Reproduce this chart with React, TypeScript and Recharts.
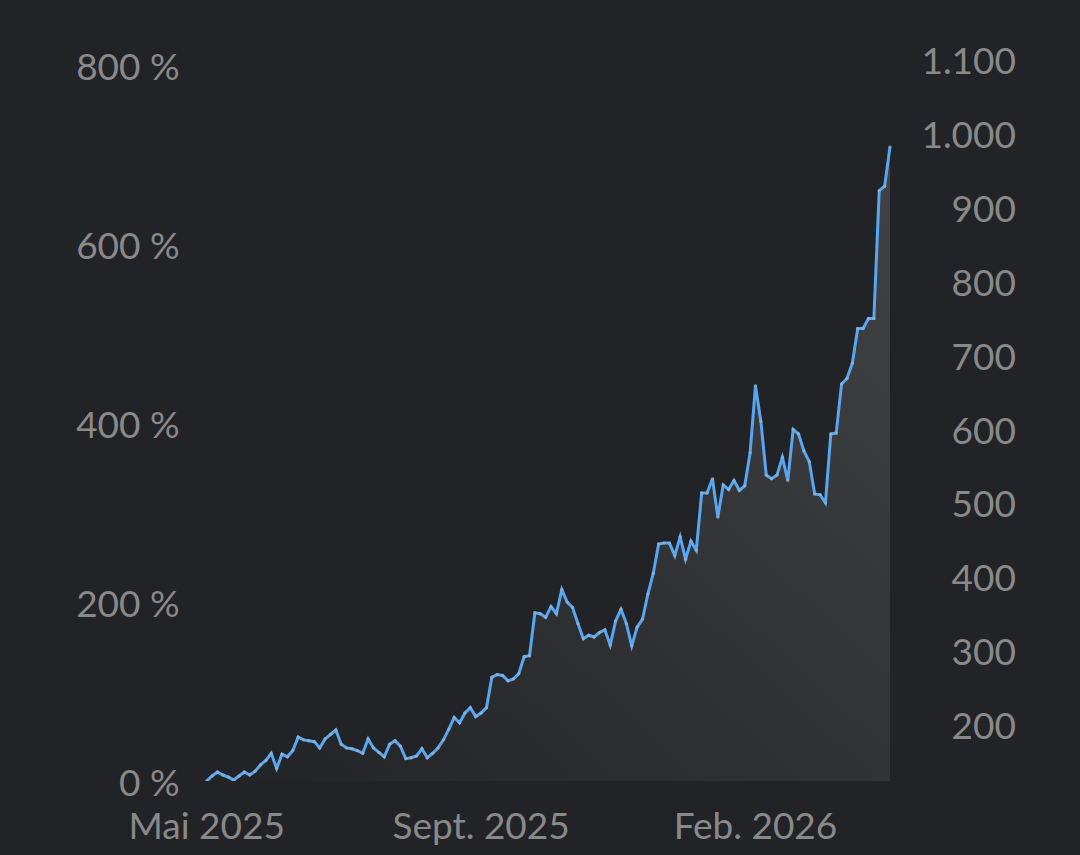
import { Area, ComposedChart, XAxis, YAxis } from "recharts"

// performance in % (one point every few days)
const perf: number[] = [
  0, 5.6, 10, 6.7, 4.5, 1, 5.6, 10, 6.7, 11, 18, 23, 31, 14, 30, 27, 34, 49, 46, 45, 44, 37,
  47, 52, 57, 41, 37, 36, 34, 31, 47, 37, 32, 27, 41, 45, 39, 25, 26, 28, 36, 26, 31, 37,
  46, 58, 71, 65, 76, 82, 72, 76, 82,
  116, 119, 118, 112, 114, 120, 139, 140, 188, 187, 183, 195, 187, 214, 200, 194, 176, 159,
  163, 161, 166, 169, 152, 179, 192, 176, 151, 172, 181, 209, 232,
  265, 266, 266, 252, 273, 248, 268, 258, 322, 322, 338, 295, 331, 326, 336, 325, 330, 367,
  442, 402, 342, 338, 342, 362, 336, 393, 388, 369, 357, 321, 320, 311, 388, 389, 444, 450, 467,
  506, 506, 517, 517, 660, 665, 709
]

const xTickIdx = [0, 51, 102]
const xTickLabels = ["Mai 2025", "Sept. 2025", "Feb. 2026"]
const leftTicks = [0, 200, 400, 600, 800]
const rightTicks = [200, 300, 400, 500, 600, 700, 800, 900, 1000, 1100]

const data = perf.map((v, i) => ({ i, v }))

const BG = "#222326"
const TEXT = "#898989"
const FONT = "Lato, 'Open Sans', sans-serif"
const FS = 37

const fmtDe = (n: number) => String(n).replace(/\B(?=(\d{3})+(?!\d))/g, ".")

const LeftTick = (p: any) => (
  <text x={p.x - 27} y={p.y} textAnchor="end" dominantBaseline="central" fill={TEXT} fontSize={FS} fontFamily={FONT}>
    {p.payload.value} %
  </text>
)

const RightTick = (p: any) => (
  <text x={p.x + 126} y={p.y} textAnchor="end" dominantBaseline="central" fill={TEXT} fontSize={FS} fontFamily={FONT}>
    {fmtDe(p.payload.value)}
  </text>
)

const BottomTick = (p: any) => (
  <text x={p.x} y={p.y + 43} textAnchor="middle" dominantBaseline="central" fill={TEXT} fontSize={FS} fontFamily={FONT}>
    {xTickLabels[xTickIdx.indexOf(p.payload.value)]}
  </text>
)

export default function App() {
  return (
    <div style={{ position: "fixed", left: 0, top: 0, width: 1080, height: 855, background: BG }}>
      <ComposedChart width={1080} height={855} data={data} margin={{ top: 50, right: 0, left: 0, bottom: 0 }}>
        <defs>
          <linearGradient id="areaFill" x1="0" y1="1" x2="1" y2="0">
            <stop offset="0%" stopColor="#ffffff" stopOpacity={0} />
            <stop offset="100%" stopColor="#ffffff" stopOpacity={0.24} />
          </linearGradient>
        </defs>
        <XAxis
          dataKey="i"
          type="number"
          domain={[0, perf.length - 1]}
          ticks={xTickIdx}
          axisLine={false}
          tickLine={false}
          tickSize={0}
          tickMargin={0}
          height={74}
          interval={0}
          tick={<BottomTick />}
        />
        <YAxis
          yAxisId="left"
          orientation="left"
          domain={[0, 817.3]}
          ticks={leftTicks}
          axisLine={false}
          tickLine={false}
          tickSize={0}
          tickMargin={0}
          width={206.7}
          interval={0}
          allowDataOverflow
          tick={<LeftTick />}
        />
        <YAxis
          yAxisId="right"
          orientation="right"
          domain={[124.3, 1112.2]}
          ticks={rightTicks}
          axisLine={false}
          tickLine={false}
          tickSize={0}
          tickMargin={0}
          width={190}
          interval={0}
          allowDataOverflow
          tick={<RightTick />}
        />
        <Area
          yAxisId="left"
          type="linear"
          dataKey="v"
          stroke="#58a6f0"
          strokeWidth={3}
          fill="url(#areaFill)"
          dot={{ r: 1.7, fill: "#a9b7c6", stroke: "none" }}
          activeDot={false}
          isAnimationActive={false}
        />
      </ComposedChart>
    </div>
  )
}
